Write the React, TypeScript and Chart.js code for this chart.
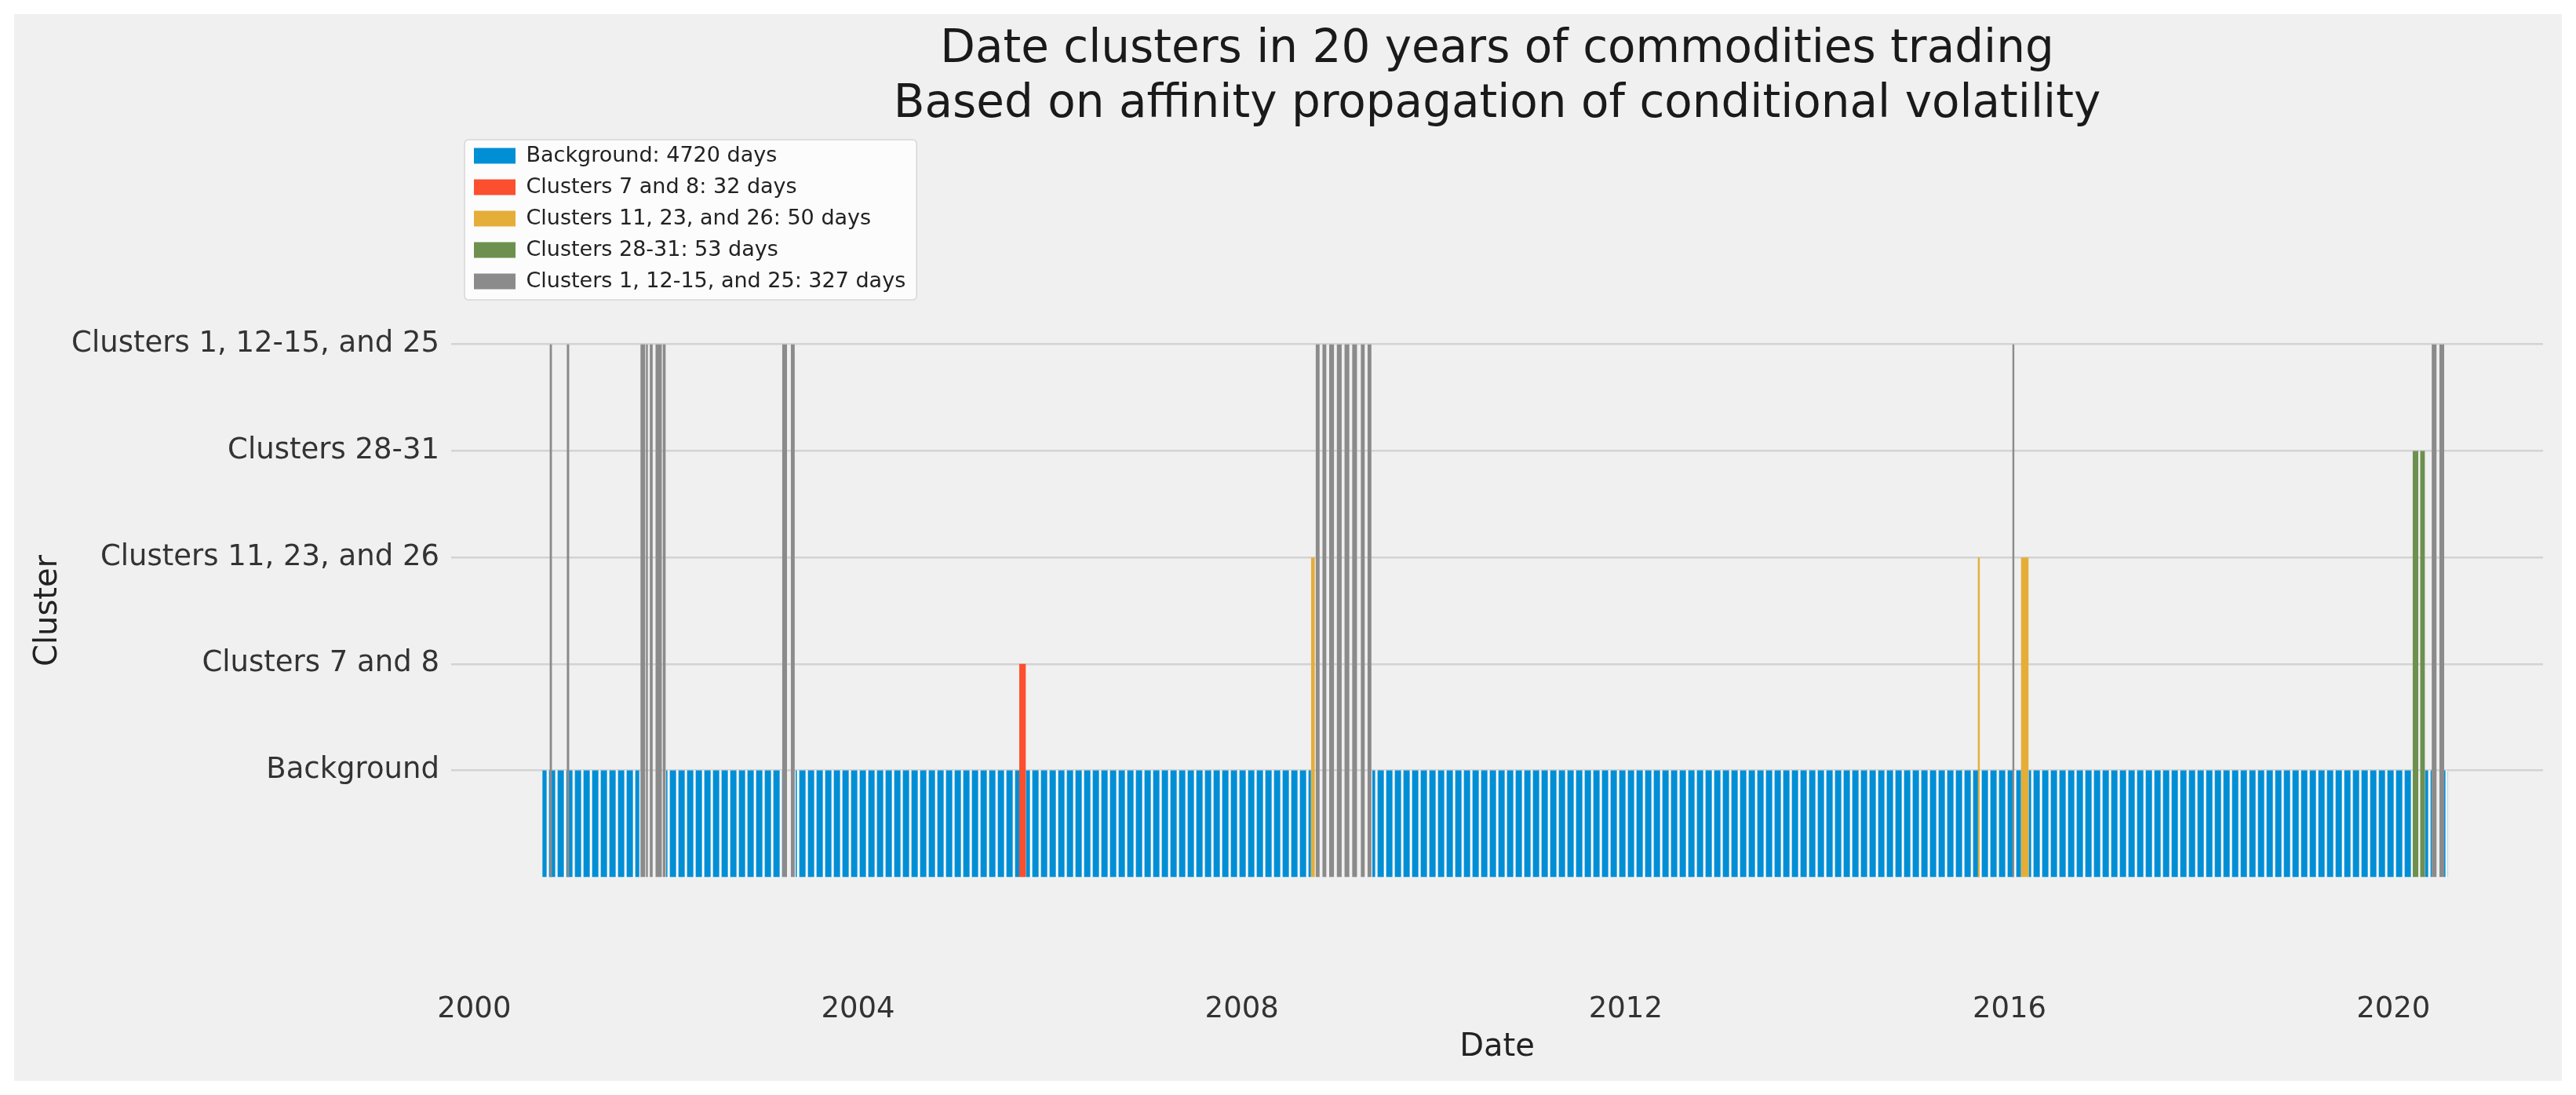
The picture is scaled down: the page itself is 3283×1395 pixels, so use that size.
import React, { useEffect, useRef } from "react";
import { Chart, registerables } from "chart.js";

Chart.register(...registerables);

// ---------- data ----------
const xTickValues = [2000, 2004, 2008, 2012, 2016, 2020];
const yLevels = [1, 2, 3, 4, 5];
const yLabels = [
  "Background",
  "Clusters 7 and 8",
  "Clusters 11, 23, and 26",
  "Clusters 28-31",
  "Clusters 1, 12-15, and 25",
];
const seriesNames = [
  "Background: 4720 days",
  "Clusters 7 and 8: 32 days",
  "Clusters 11, 23, and 26: 50 days",
  "Clusters 28-31: 53 days",
  "Clusters 1, 12-15, and 25: 327 days",
];
const seriesColors = ["#008fd5", "#fc4f30", "#e5ae38", "#6d904f", "#8b8b8b"];

// periods as [start, end] in decimal years
const backgroundPeriods: number[][] = [
  [2000.71, 2001.72],
  [2002.0, 2003.21],
  [2003.35, 2005.68],
  [2005.75, 2008.72],
  [2009.36, 2016.12],
  [2016.2, 2020.2],
  [2020.33, 2020.4],
  [2020.53, 2020.57],
];
const clusters7and8Periods: number[][] = [[2005.68, 2005.75]];
const clusters11_23_26Periods: number[][] = [
  [2008.72, 2008.76],
  [2015.67, 2015.69],
  [2016.12, 2016.2],
];
const clusters28_31Periods: number[][] = [
  [2020.2, 2020.26],
  [2020.28, 2020.33],
];
const clusters1_12_15_25Periods: number[][] = [
  [2000.785, 2000.81],
  [2000.965, 2000.99],
  [2001.733, 2001.782],
  [2001.79, 2001.81],
  [2001.83, 2001.86],
  [2001.89, 2001.955],
  [2001.965, 2001.995],
  [2003.21, 2003.26],
  [2003.3, 2003.34],
  [2008.77, 2008.81],
  [2008.84, 2008.88],
  [2008.91, 2008.96],
  [2008.99, 2009.04],
  [2009.07, 2009.12],
  [2009.15, 2009.2],
  [2009.24, 2009.28],
  [2009.31, 2009.35],
  [2016.03, 2016.05],
  [2020.4, 2020.45],
  [2020.48, 2020.53],
];
const seriesPeriods = [
  backgroundPeriods,
  clusters7and8Periods,
  clusters11_23_26Periods,
  clusters28_31Periods,
  clusters1_12_15_25Periods,
];

// ---------- helpers ----------
function toSteps(periods: number[][], level: number) {
  const pts: { x: number; y: number }[] = [];
  periods.forEach(([s, e]) => {
    pts.push({ x: s, y: 0 }, { x: s, y: level }, { x: e, y: level }, { x: e, y: 0 });
  });
  return pts;
}

const FONT = "'DejaVu Sans', 'Liberation Sans', sans-serif";
const LEGEND_FONT_SIZE = 27;
const LEGEND_PAD = 13;
const LEGEND_BOX_W = 53;

const legendPlugin = {
  id: "legendPlace",
  afterLayout(chart: any) {
    const lg = chart.legend;
    const ca = chart.chartArea;
    if (!lg || !ca) return;
    lg.left = ca.left + 16;
    lg.top = ca.top - 131;
    lg.right = ca.right;
    lg.bottom = ca.bottom;
  },
  beforeDraw(chart: any) {
    const lg = chart.legend;
    if (!lg) return;
    const ctx = chart.ctx;
    ctx.save();
    ctx.font = `${LEGEND_FONT_SIZE}px ${FONT}`;
    let maxW = 0;
    seriesNames.forEach((t) => {
      maxW = Math.max(maxW, ctx.measureText(t).width);
    });
    const boxLeft = lg.left + LEGEND_PAD;
    const textStart = boxLeft + LEGEND_BOX_W + LEGEND_FONT_SIZE / 2;
    const x0 = boxLeft - 12;
    const x1 = textStart + maxW + 14;
    const y0 = lg.top + LEGEND_PAD - 7;
    const y1 = y0 + 204;
    const r = 5;
    ctx.beginPath();
    ctx.moveTo(x0 + r, y0);
    ctx.lineTo(x1 - r, y0);
    ctx.arcTo(x1, y0, x1, y0 + r, r);
    ctx.lineTo(x1, y1 - r);
    ctx.arcTo(x1, y1, x1 - r, y1, r);
    ctx.lineTo(x0 + r, y1);
    ctx.arcTo(x0, y1, x0, y1 - r, r);
    ctx.lineTo(x0, y0 + r);
    ctx.arcTo(x0, y0, x0 + r, y0, r);
    ctx.closePath();
    ctx.fillStyle = "rgba(252,252,252,0.95)";
    ctx.fill();
    ctx.lineWidth = 1.5;
    ctx.strokeStyle = "#d6d6d6";
    ctx.stroke();
    ctx.restore();
  },
};

export default function App() {
  const ref = useRef<HTMLCanvasElement>(null);

  useEffect(() => {
    document.body.style.margin = "0";
    const canvas = ref.current!;
    const ctx = canvas.getContext("2d")!;

    // striped fill used for the dense background bars
    const pc = document.createElement("canvas");
    pc.width = 11;
    pc.height = 4;
    const pctx = pc.getContext("2d")!;
    pctx.fillStyle = "#ffffff";
    pctx.fillRect(0, 0, 11, 4);
    pctx.fillStyle = "#008fd5";
    pctx.fillRect(0, 0, 7, 4);
    pctx.fillStyle = "#5fb3e4";
    pctx.fillRect(7, 0, 1, 4);
    pctx.fillStyle = "#9ccfee";
    pctx.fillRect(10, 0, 1, 4);
    const bluePattern = ctx.createPattern(pc, "repeat");

    const datasets = seriesNames.map((name, i) => ({
      type: "line" as const,
      label: name,
      data: toSteps(seriesPeriods[i], yLevels[i]),
      backgroundColor: i === 0 ? (bluePattern as any) : seriesColors[i],
      borderColor: "rgba(0,0,0,0)",
      borderWidth: 0,
      pointRadius: 0,
      pointHoverRadius: 0,
      tension: 0,
      fill: "origin",
      order: i === 0 ? 10 : 5 - i,
    }));

    const chart = new Chart(ctx, {
      type: "line",
      data: { datasets },
      plugins: [legendPlugin],
      options: {
        responsive: false,
        devicePixelRatio: 1,
        animation: false,
        events: [],
        layout: { padding: { left: 0, right: 24, top: 0, bottom: 0 } },
        plugins: {
          tooltip: { enabled: false },
          title: {
            display: true,
            text: [
              "Date clusters in 20 years of commodities trading",
              "Based on affinity propagation of conditional volatility",
            ],
            fullSize: false,
            color: "#1a1a1a",
            font: { family: FONT, size: 58, weight: "normal", lineHeight: 70 / 58 },
            padding: { top: 11, bottom: 134 },
          },
          legend: {
            display: true,
            position: "chartArea",
            align: "start",
            labels: {
              font: { family: FONT, size: LEGEND_FONT_SIZE },
              color: "#222222",
              boxWidth: LEGEND_BOX_W,
              boxHeight: 20,
              padding: LEGEND_PAD,
              textAlign: "left",
              generateLabels: () =>
                seriesNames.map((t, i) => ({
                  text: t,
                  fillStyle: seriesColors[i],
                  strokeStyle: "rgba(0,0,0,0)",
                  lineWidth: 0,
                  hidden: false,
                  datasetIndex: i,
                  fontColor: "#222222",
                  textAlign: "left",
                })),
            },
          },
        },
        scales: {
          x: {
            type: "linear",
            min: 1999.76,
            max: 2021.56,
            grid: { display: false, drawTicks: false },
            border: { display: false },
            afterBuildTicks: (scale: any) => {
              scale.ticks = xTickValues.map((v) => ({ value: v }));
            },
            afterFit: (scale: any) => {
              scale.height = 124;
            },
            ticks: {
              padding: 11,
              color: "#333333",
              font: { family: FONT, size: 37 },
              maxRotation: 0,
              callback: (v: any) => String(v),
            },
            title: {
              display: true,
              text: "Date",
              color: "#222222",
              font: { family: FONT, size: 40 },
              padding: { top: 0, bottom: 18 },
            },
          },
          y: {
            type: "linear",
            min: -1,
            max: 6,
            grid: { display: true, drawTicks: false, color: "#d3d3d3", lineWidth: 2.5 },
            border: { display: false },
            afterBuildTicks: (scale: any) => {
              scale.ticks = yLevels.map((v) => ({ value: v }));
            },
            afterFit: (scale: any) => {
              scale.width = 557;
            },
            ticks: {
              padding: 15,
              color: "#333333",
              font: { family: FONT, size: 37 },
              callback: (v: any) => yLabels[yLevels.indexOf(Number(v))] ?? "",
            },
            title: {
              display: true,
              text: "Cluster",
              color: "#222222",
              font: { family: FONT, size: 40 },
              padding: { top: 20, bottom: 0 },
            },
          },
        },
      },
    } as any);

    return () => chart.destroy();
  }, []);

  return (
    <div
      style={{
        width: 3283,
        height: 1395,
        background: "#ffffff",
        position: "relative",
        overflow: "hidden",
      }}
    >
      <div
        style={{
          position: "absolute",
          left: 18,
          top: 18,
          width: 3247,
          height: 1359,
          background: "#f0f0f0",
        }}
      >
        <canvas
          ref={ref}
          width={3247}
          height={1359}
          style={{ width: 3247, height: 1359, display: "block" }}
        />
      </div>
    </div>
  );
}
